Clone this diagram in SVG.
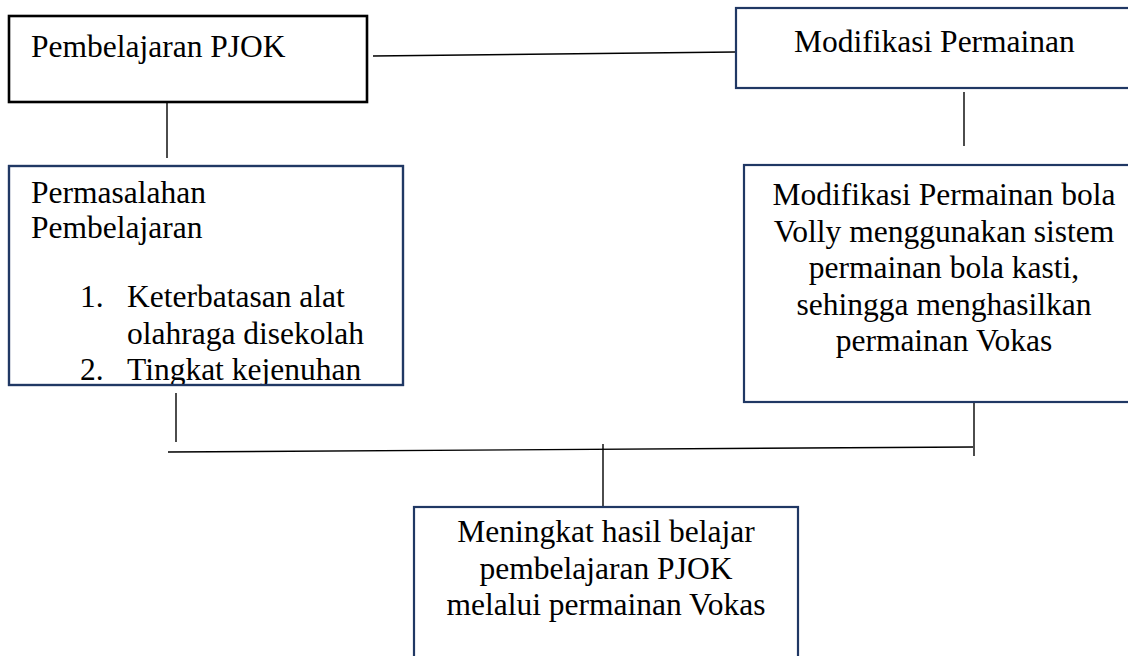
<svg xmlns="http://www.w3.org/2000/svg" width="1128" height="656" viewBox="0 0 1128 656">
<style>
  text { font-family: "Liberation Serif", "Times New Roman", serif; font-size: 31.5px; fill: #000; }
  .c { text-anchor: middle; }
  .box { fill: #fff; stroke: #203864; stroke-width: 2.2; }
  .boxk { fill: #fff; stroke: #000; stroke-width: 2.6; }
  .ln { stroke: #000; stroke-width: 1.4; fill: none; }
</style>
<defs>
  <clipPath id="clip3"><rect x="9" y="166" width="394" height="218"/></clipPath>
</defs>
<rect width="1128" height="656" fill="#fff"/>
<g id="connectors">
  <line class="ln" x1="373" y1="56" x2="735" y2="52"/>
  <line class="ln" x1="167" y1="103" x2="167" y2="158"/>
  <line class="ln" x1="964" y1="92" x2="964" y2="146"/>
  <line class="ln" x1="176" y1="393" x2="176" y2="442"/>
  <line class="ln" x1="974" y1="398" x2="974" y2="456"/>
  <line class="ln" x1="168" y1="452" x2="973" y2="447"/>
  <line class="ln" x1="603" y1="444" x2="603" y2="507"/>
</g>
<g id="node-pembelajaran">
  <rect class="boxk" x="9" y="16" width="358" height="86"/>
  <text x="31" y="57">Pembelajaran PJOK</text>
</g>
<g id="node-modifikasi">
  <rect class="box" x="736" y="8" width="400" height="80"/>
  <text x="794" y="52">Modifikasi Permainan</text>
</g>
<g id="node-permasalahan">
  <rect class="box" x="9" y="166" width="394" height="219"/>
  <g clip-path="url(#clip3)">
    <text x="31" y="203">Permasalahan</text>
    <text x="31" y="238">Pembelajaran</text>
    <text x="80" y="307">1.</text>
    <text x="127" y="307">Keterbatasan alat</text>
    <text x="127" y="343.5">olahraga disekolah</text>
    <text x="80" y="380">2.</text>
    <text x="127" y="380">Tingkat kejenuhan</text>
  </g>
  <rect x="9" y="166" width="394" height="219" fill="none" stroke="#203864" stroke-width="2.2"/>
</g>
<g id="node-modifikasi-volly">
  <rect class="box" x="744" y="165" width="400" height="237"/>
  <text class="c" x="944" y="205">Modifikasi Permainan bola</text>
  <text class="c" x="944" y="241.5">Volly menggunakan sistem</text>
  <text class="c" x="944" y="278">permainan bola kasti,</text>
  <text class="c" x="944" y="314.5">sehingga menghasilkan</text>
  <text class="c" x="944" y="351">permainan Vokas</text>
</g>
<g id="node-meningkat">
  <rect class="box" x="414" y="507" width="384" height="170"/>
  <text class="c" x="606" y="542">Meningkat hasil belajar</text>
  <text class="c" x="606" y="579">pembelajaran PJOK</text>
  <text class="c" x="606" y="615">melalui permainan Vokas</text>
</g>
</svg>
